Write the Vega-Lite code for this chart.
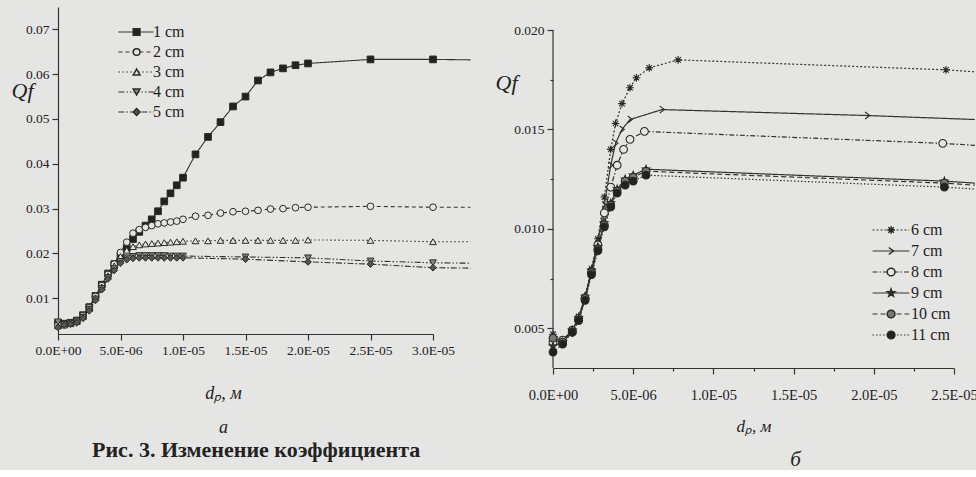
{
  "$schema": "https://vega.github.io/schema/vega-lite/v6.json",
  "background": "#e5e5e3",
  "padding": {"left": 11, "top": 7, "right": 0, "bottom": 0},
  "spacing": 22,
  "resolve": {
    "scale": {"strokeDash": "independent", "shape": "independent", "fill": "independent"},
    "legend": {"strokeDash": "independent", "shape": "independent", "fill": "independent"}
  },
  "config": {
    "view": {"stroke": null},
    "font": "Liberation Serif",
    "axis": {
      "grid": false,
      "domainColor": "#333",
      "tickColor": "#333",
      "domainWidth": 1.2,
      "tickWidth": 1.2,
      "labelColor": "#222",
      "titleColor": "#222",
      "labelFont": "Liberation Serif",
      "titleFont": "Liberation Serif",
      "labelFontSize": 13.5,
      "labelOverlap": false,
      "labelFlush": false,
      "titleFontWeight": "normal"
    },
    "legend": {
      "labelFont": "Liberation Serif",
      "labelFontSize": 16,
      "labelColor": "#222",
      "padding": 0
    },
    "title": {"font": "Liberation Serif", "color": "#222"}
  },
  "datasets": {
    "left": [
      {"s":"1 cm","x":0,"y":0.0045},{"s":"1 cm","x":0.5e-6,"y":0.0043},{"s":"1 cm","x":1e-6,"y":0.0045},{"s":"1 cm","x":1.5e-6,"y":0.0050},{"s":"1 cm","x":2e-6,"y":0.0062},{"s":"1 cm","x":2.5e-6,"y":0.0080},{"s":"1 cm","x":3e-6,"y":0.0105},{"s":"1 cm","x":3.5e-6,"y":0.0130},{"s":"1 cm","x":4e-6,"y":0.0155},{"s":"1 cm","x":4.5e-6,"y":0.0176},{"s":"1 cm","x":5e-6,"y":0.0195},{"s":"1 cm","x":5.5e-6,"y":0.0212},{"s":"1 cm","x":6e-6,"y":0.0232},{"s":"1 cm","x":6.5e-6,"y":0.0248},{"s":"1 cm","x":7e-6,"y":0.0262},{"s":"1 cm","x":7.5e-6,"y":0.0276},{"s":"1 cm","x":8e-6,"y":0.0294},{"s":"1 cm","x":8.5e-6,"y":0.0316},{"s":"1 cm","x":9e-6,"y":0.0334},{"s":"1 cm","x":9.5e-6,"y":0.0352},{"s":"1 cm","x":10e-6,"y":0.0369},{"s":"1 cm","x":11e-6,"y":0.0421},{"s":"1 cm","x":12e-6,"y":0.0460},{"s":"1 cm","x":13e-6,"y":0.0493},{"s":"1 cm","x":14e-6,"y":0.0528},{"s":"1 cm","x":15e-6,"y":0.0550},{"s":"1 cm","x":16e-6,"y":0.0586},{"s":"1 cm","x":17e-6,"y":0.0604},{"s":"1 cm","x":18e-6,"y":0.0613},{"s":"1 cm","x":19e-6,"y":0.0620},{"s":"1 cm","x":20e-6,"y":0.0624},{"s":"1 cm","x":25e-6,"y":0.0633},{"s":"1 cm","x":30e-6,"y":0.0633},{"s":"1 cm","x":33e-6,"y":0.0632},
      {"s":"2 cm","x":0,"y":0.0040},{"s":"2 cm","x":0.5e-6,"y":0.0041},{"s":"2 cm","x":1e-6,"y":0.0044},{"s":"2 cm","x":1.5e-6,"y":0.0049},{"s":"2 cm","x":2e-6,"y":0.0061},{"s":"2 cm","x":2.5e-6,"y":0.0079},{"s":"2 cm","x":3e-6,"y":0.0104},{"s":"2 cm","x":3.5e-6,"y":0.0128},{"s":"2 cm","x":4e-6,"y":0.0153},{"s":"2 cm","x":4.5e-6,"y":0.0176},{"s":"2 cm","x":5e-6,"y":0.0202},{"s":"2 cm","x":5.5e-6,"y":0.0225},{"s":"2 cm","x":6e-6,"y":0.0245},{"s":"2 cm","x":6.5e-6,"y":0.0253},{"s":"2 cm","x":7e-6,"y":0.0258},{"s":"2 cm","x":7.5e-6,"y":0.0262},{"s":"2 cm","x":8e-6,"y":0.0266},{"s":"2 cm","x":8.5e-6,"y":0.0268},{"s":"2 cm","x":9e-6,"y":0.0270},{"s":"2 cm","x":9.5e-6,"y":0.0272},{"s":"2 cm","x":10e-6,"y":0.0276},{"s":"2 cm","x":11e-6,"y":0.0283},{"s":"2 cm","x":12e-6,"y":0.0285},{"s":"2 cm","x":13e-6,"y":0.0290},{"s":"2 cm","x":14e-6,"y":0.0293},{"s":"2 cm","x":15e-6,"y":0.0294},{"s":"2 cm","x":16e-6,"y":0.0296},{"s":"2 cm","x":17e-6,"y":0.0299},{"s":"2 cm","x":18e-6,"y":0.0300},{"s":"2 cm","x":19e-6,"y":0.0302},{"s":"2 cm","x":20e-6,"y":0.0303},{"s":"2 cm","x":25e-6,"y":0.0305},{"s":"2 cm","x":30e-6,"y":0.0303},{"s":"2 cm","x":33e-6,"y":0.0303},
      {"s":"3 cm","x":0,"y":0.0038},{"s":"3 cm","x":0.5e-6,"y":0.0040},{"s":"3 cm","x":1e-6,"y":0.0043},{"s":"3 cm","x":1.5e-6,"y":0.0048},{"s":"3 cm","x":2e-6,"y":0.0059},{"s":"3 cm","x":2.5e-6,"y":0.0077},{"s":"3 cm","x":3e-6,"y":0.0101},{"s":"3 cm","x":3.5e-6,"y":0.0125},{"s":"3 cm","x":4e-6,"y":0.0150},{"s":"3 cm","x":4.5e-6,"y":0.0172},{"s":"3 cm","x":5e-6,"y":0.0193},{"s":"3 cm","x":5.5e-6,"y":0.0207},{"s":"3 cm","x":6e-6,"y":0.0215},{"s":"3 cm","x":6.5e-6,"y":0.0219},{"s":"3 cm","x":7e-6,"y":0.0221},{"s":"3 cm","x":7.5e-6,"y":0.0222},{"s":"3 cm","x":8e-6,"y":0.0223},{"s":"3 cm","x":8.5e-6,"y":0.0224},{"s":"3 cm","x":9e-6,"y":0.0225},{"s":"3 cm","x":9.5e-6,"y":0.0226},{"s":"3 cm","x":10e-6,"y":0.0227},{"s":"3 cm","x":11e-6,"y":0.0228},{"s":"3 cm","x":12e-6,"y":0.0228},{"s":"3 cm","x":13e-6,"y":0.0229},{"s":"3 cm","x":14e-6,"y":0.0229},{"s":"3 cm","x":15e-6,"y":0.0229},{"s":"3 cm","x":16e-6,"y":0.0229},{"s":"3 cm","x":17e-6,"y":0.0229},{"s":"3 cm","x":18e-6,"y":0.0229},{"s":"3 cm","x":19e-6,"y":0.0229},{"s":"3 cm","x":20e-6,"y":0.0230},{"s":"3 cm","x":25e-6,"y":0.0229},{"s":"3 cm","x":30e-6,"y":0.0226},{"s":"3 cm","x":33e-6,"y":0.0226},
      {"s":"4 cm","x":0,"y":0.0047},{"s":"4 cm","x":0.5e-6,"y":0.0042},{"s":"4 cm","x":1e-6,"y":0.0043},{"s":"4 cm","x":1.5e-6,"y":0.0047},{"s":"4 cm","x":2e-6,"y":0.0057},{"s":"4 cm","x":2.5e-6,"y":0.0075},{"s":"4 cm","x":3e-6,"y":0.0098},{"s":"4 cm","x":3.5e-6,"y":0.0122},{"s":"4 cm","x":4e-6,"y":0.0146},{"s":"4 cm","x":4.5e-6,"y":0.0166},{"s":"4 cm","x":5e-6,"y":0.0182},{"s":"4 cm","x":5.5e-6,"y":0.0190},{"s":"4 cm","x":6e-6,"y":0.0193},{"s":"4 cm","x":6.5e-6,"y":0.0195},{"s":"4 cm","x":7e-6,"y":0.0195},{"s":"4 cm","x":7.5e-6,"y":0.0195},{"s":"4 cm","x":8e-6,"y":0.0195},{"s":"4 cm","x":8.5e-6,"y":0.0195},{"s":"4 cm","x":9e-6,"y":0.0194},{"s":"4 cm","x":9.5e-6,"y":0.0194},{"s":"4 cm","x":10e-6,"y":0.0194},{"s":"4 cm","x":15e-6,"y":0.0192},{"s":"4 cm","x":20e-6,"y":0.0190},{"s":"4 cm","x":25e-6,"y":0.0183},{"s":"4 cm","x":30e-6,"y":0.0179},{"s":"4 cm","x":33e-6,"y":0.0178},
      {"s":"5 cm","x":0,"y":0.0035},{"s":"5 cm","x":0.5e-6,"y":0.0040},{"s":"5 cm","x":1e-6,"y":0.0042},{"s":"5 cm","x":1.5e-6,"y":0.0045},{"s":"5 cm","x":2e-6,"y":0.0055},{"s":"5 cm","x":2.5e-6,"y":0.0072},{"s":"5 cm","x":3e-6,"y":0.0095},{"s":"5 cm","x":3.5e-6,"y":0.0119},{"s":"5 cm","x":4e-6,"y":0.0143},{"s":"5 cm","x":4.5e-6,"y":0.0162},{"s":"5 cm","x":5e-6,"y":0.0178},{"s":"5 cm","x":5.5e-6,"y":0.0186},{"s":"5 cm","x":6e-6,"y":0.0189},{"s":"5 cm","x":6.5e-6,"y":0.0190},{"s":"5 cm","x":7e-6,"y":0.0190},{"s":"5 cm","x":7.5e-6,"y":0.0190},{"s":"5 cm","x":8e-6,"y":0.0190},{"s":"5 cm","x":8.5e-6,"y":0.0190},{"s":"5 cm","x":9e-6,"y":0.0190},{"s":"5 cm","x":9.5e-6,"y":0.0190},{"s":"5 cm","x":10e-6,"y":0.0190},{"s":"5 cm","x":15e-6,"y":0.0187},{"s":"5 cm","x":20e-6,"y":0.0181},{"s":"5 cm","x":25e-6,"y":0.0176},{"s":"5 cm","x":30e-6,"y":0.0168},{"s":"5 cm","x":33e-6,"y":0.0167}
    ],
    "right": [
      {"s":"6 cm","x":0,"y":0.0047},{"s":"6 cm","x":0.6e-6,"y":0.0044},{"s":"6 cm","x":1.2e-6,"y":0.0049},{"s":"6 cm","x":1.6e-6,"y":0.0056},{"s":"6 cm","x":2.0e-6,"y":0.0066},{"s":"6 cm","x":2.4e-6,"y":0.0080},{"s":"6 cm","x":2.8e-6,"y":0.0095},{"s":"6 cm","x":3.2e-6,"y":0.0116},{"s":"6 cm","x":3.6e-6,"y":0.0140},{"s":"6 cm","x":3.9e-6,"y":0.0153},{"s":"6 cm","x":4.3e-6,"y":0.0163},{"s":"6 cm","x":4.8e-6,"y":0.0171},{"s":"6 cm","x":5.2e-6,"y":0.0176},{"s":"6 cm","x":6.0e-6,"y":0.0181},{"s":"6 cm","x":7.8e-6,"y":0.0185},{"s":"6 cm","x":24.5e-6,"y":0.0180},{"s":"6 cm","x":26.3e-6,"y":0.0179},
      {"s":"7 cm","x":0,"y":0.0045},{"s":"7 cm","x":0.6e-6,"y":0.0044},{"s":"7 cm","x":1.2e-6,"y":0.0049},{"s":"7 cm","x":1.6e-6,"y":0.0055},{"s":"7 cm","x":2.0e-6,"y":0.0065},{"s":"7 cm","x":2.4e-6,"y":0.0079},{"s":"7 cm","x":2.8e-6,"y":0.0094},{"s":"7 cm","x":3.2e-6,"y":0.0112},{"s":"7 cm","x":3.6e-6,"y":0.0132},{"s":"7 cm","x":3.9e-6,"y":0.0143},{"s":"7 cm","x":4.3e-6,"y":0.0150},{"s":"7 cm","x":4.8e-6,"y":0.0155},{"s":"7 cm","x":6.8e-6,"y":0.0160},{"s":"7 cm","x":19.6e-6,"y":0.0157},{"s":"7 cm","x":26.3e-6,"y":0.0155},
      {"s":"8 cm","x":0,"y":0.0043},{"s":"8 cm","x":0.6e-6,"y":0.0044},{"s":"8 cm","x":1.2e-6,"y":0.0049},{"s":"8 cm","x":1.6e-6,"y":0.0055},{"s":"8 cm","x":2.0e-6,"y":0.0065},{"s":"8 cm","x":2.4e-6,"y":0.0078},{"s":"8 cm","x":2.8e-6,"y":0.0092},{"s":"8 cm","x":3.2e-6,"y":0.0108},{"s":"8 cm","x":3.6e-6,"y":0.0121},{"s":"8 cm","x":4.0e-6,"y":0.0132},{"s":"8 cm","x":4.4e-6,"y":0.0140},{"s":"8 cm","x":4.8e-6,"y":0.0145},{"s":"8 cm","x":5.7e-6,"y":0.0149},{"s":"8 cm","x":24.3e-6,"y":0.0143},{"s":"8 cm","x":26.3e-6,"y":0.0142},
      {"s":"9 cm","x":0,"y":0.0041},{"s":"9 cm","x":0.6e-6,"y":0.0043},{"s":"9 cm","x":1.2e-6,"y":0.0049},{"s":"9 cm","x":1.6e-6,"y":0.0055},{"s":"9 cm","x":2.0e-6,"y":0.0066},{"s":"9 cm","x":2.4e-6,"y":0.0079},{"s":"9 cm","x":2.8e-6,"y":0.0091},{"s":"9 cm","x":3.2e-6,"y":0.0103},{"s":"9 cm","x":3.6e-6,"y":0.0113},{"s":"9 cm","x":4.0e-6,"y":0.0120},{"s":"9 cm","x":4.5e-6,"y":0.0125},{"s":"9 cm","x":5.0e-6,"y":0.0127},{"s":"9 cm","x":5.8e-6,"y":0.0130},{"s":"9 cm","x":24.4e-6,"y":0.0124},{"s":"9 cm","x":26.3e-6,"y":0.0123},
      {"s":"10 cm","x":0,"y":0.0045},{"s":"10 cm","x":0.6e-6,"y":0.0043},{"s":"10 cm","x":1.2e-6,"y":0.0048},{"s":"10 cm","x":1.6e-6,"y":0.0054},{"s":"10 cm","x":2.0e-6,"y":0.0065},{"s":"10 cm","x":2.4e-6,"y":0.0078},{"s":"10 cm","x":2.8e-6,"y":0.0090},{"s":"10 cm","x":3.2e-6,"y":0.0102},{"s":"10 cm","x":3.6e-6,"y":0.0112},{"s":"10 cm","x":4.0e-6,"y":0.0119},{"s":"10 cm","x":4.5e-6,"y":0.0124},{"s":"10 cm","x":5.0e-6,"y":0.0126},{"s":"10 cm","x":5.8e-6,"y":0.0129},{"s":"10 cm","x":24.4e-6,"y":0.0123},{"s":"10 cm","x":26.3e-6,"y":0.0122},
      {"s":"11 cm","x":0,"y":0.0038},{"s":"11 cm","x":0.6e-6,"y":0.0042},{"s":"11 cm","x":1.2e-6,"y":0.0048},{"s":"11 cm","x":1.6e-6,"y":0.0054},{"s":"11 cm","x":2.0e-6,"y":0.0064},{"s":"11 cm","x":2.4e-6,"y":0.0077},{"s":"11 cm","x":2.8e-6,"y":0.0089},{"s":"11 cm","x":3.2e-6,"y":0.0101},{"s":"11 cm","x":3.6e-6,"y":0.0111},{"s":"11 cm","x":4.0e-6,"y":0.0118},{"s":"11 cm","x":4.5e-6,"y":0.0122},{"s":"11 cm","x":5.0e-6,"y":0.0124},{"s":"11 cm","x":5.8e-6,"y":0.0127},{"s":"11 cm","x":24.4e-6,"y":0.0121},{"s":"11 cm","x":26.3e-6,"y":0.0120}
    ]
  },
  "hconcat": [
    {
      "width": 375,
      "height": 327,
      "title": {
        "text": "Рис. 3. Изменение коэффициента",
        "orient": "bottom",
        "anchor": "start",
        "dx": 81,
        "fontSize": 22,
        "fontWeight": "bold",
        "color": "#222",
        "offset": 3
      },
      "data": {"name": "left"},
      "layer": [
        {
          "mark": {"type": "line", "color": "#333", "strokeWidth": 1.1},
          "encoding": {
            "x": {
              "field": "x", "type": "quantitative",
              "scale": {"domain": [0, 3e-5], "nice": false},
              "axis": {
                "title": ["dₚ, м", "а"],
                "titleFontStyle": "italic",
                "titleFontSize": 18,
                "titleLineHeight": 34,
                "titleX": 165,
                "titlePadding": 28,
                "labelOverlap": false,
                "values": [0, 2.5e-6, 5e-6, 7.5e-6, 1e-5, 1.25e-5, 1.5e-5, 1.75e-5, 2e-5, 2.25e-5, 2.5e-5, 2.75e-5, 3e-5],
                "labelExpr": "round(datum.value*1e7) % 50 == 0 ? replace(replace(format(datum.value, '.1e'), 'e-', 'E-0'), 'e+', 'E+0') : ''",
                "tickSize": {"condition": {"test": "round(datum.value*1e7) % 50 == 0", "value": 6}, "value": 3},
                "labelPadding": 3
              }
            },
            "y": {
              "field": "y", "type": "quantitative",
              "scale": {"domain": [0.002, 0.075], "nice": false, "zero": false},
              "axis": {
                "title": "Qf",
                "titleAngle": 0,
                "titleFontStyle": "italic",
                "titleFontSize": 22,
                "titleAlign": "center",
                "titleBaseline": "middle",
                "titleX": -36,
                "titleY": 83,
                "labelOverlap": false,
                "values": [0.01, 0.02, 0.03, 0.04, 0.05, 0.06, 0.07],
                "format": ".2f",
                "tickSize": 6,
                "labelPadding": 3
              }
            },
            "strokeDash": {
              "field": "s", "type": "nominal",
              "scale": {"domain": ["1 cm", "2 cm", "3 cm", "4 cm", "5 cm"], "range": [[1, 0], [4, 3], [1.5, 2.5], [6, 2, 1.5, 2, 1.5, 2], [6, 2, 1.5, 2]]},
              "legend": {
                "title": null, "orient": "none", "legendX": 57, "legendY": 17,
                "symbolType": "M-4.4,0L4.4,0", "symbolSize": 64, "symbolOffset": 13, "symbolStrokeWidth": 1.1, "symbolStrokeColor": "#333",
                "labelOffset": 9, "rowPadding": 4
              }
            }
          }
        },
        {
          "transform": [{"filter": "datum.x <= 3.01e-5"}],
          "mark": {"type": "point", "filled": true, "stroke": "#2a2a2a", "strokeWidth": 1, "opacity": 1, "size": 45},
          "encoding": {
            "x": {"field": "x", "type": "quantitative"},
            "y": {"field": "y", "type": "quantitative"},
            "shape": {
              "field": "s", "type": "nominal",
              "scale": {"range": ["square", "circle", "triangle-up", "triangle-down", "diamond"]},
              "legend": {
                "title": null, "orient": "none", "legendX": 57, "legendY": 17,
                "symbolSize": 45, "symbolOffset": 13.6,
                "labelOffset": 9, "rowPadding": 4, "labelOpacity": 0,
                "encode": {"symbols": {"update": {"stroke": {"value": "#2a2a2a"}, "strokeWidth": {"value": 1}}}}
              }
            },
            "fill": {
              "field": "s", "type": "nominal",
              "scale": {"range": ["#222222", "#e5e5e3", "#e5e5e3", "#8a8a8a", "#555555"]}
            }
          }
        }
      ]
    },
    {
      "width": 401,
      "height": 361,
      "title": {
        "text": "б",
        "orient": "bottom",
        "anchor": "middle",
        "fontSize": 21,
        "fontStyle": "italic",
        "fontWeight": "normal",
        "offset": 14,
        "dx": 42
      },
      "data": {"name": "right"},
      "layer": [
        {
          "transform": [{"filter": "datum.s == '6 cm' && datum.x == 0"}],
          "mark": {"type": "rule", "color": "#333", "strokeWidth": 1.2},
          "encoding": {
            "x": {"datum": 0, "type": "quantitative"},
            "y": {"datum": 0.003, "type": "quantitative"},
            "y2": {"datum": 0.02}
          }
        },
        {
          "mark": {"type": "line", "color": "#333", "strokeWidth": 1.2},
          "encoding": {
            "x": {
              "field": "x", "type": "quantitative",
              "scale": {"domain": [0, 2.5e-5], "nice": false},
              "axis": {
                "title": "dₚ, м",
                "titleFontStyle": "italic",
                "titleFontSize": 17,
                "titlePadding": 17,
                "labelOverlap": false,
                "values": [0, 2.5e-6, 5e-6, 7.5e-6, 1e-5, 1.25e-5, 1.5e-5, 1.75e-5, 2e-5, 2.25e-5, 2.5e-5],
                "labelExpr": "round(datum.value*1e7) % 50 == 0 ? replace(replace(format(datum.value, '.1e'), 'e-', 'E-0'), 'e+', 'E+0') : ''",
                "tickSize": {"condition": {"test": "round(datum.value*1e7) % 50 == 0", "value": 6}, "value": 3},
                "labelFontSize": 14.5,
                "labelPadding": 14
              }
            },
            "y": {
              "field": "y", "type": "quantitative",
              "scale": {"domain": [0.003, 0.02116], "nice": false, "zero": false},
              "axis": {
                "title": "Qf",
                "domain": false,
                "titleAngle": 0,
                "titleFontStyle": "italic",
                "titleFontSize": 22,
                "titleAlign": "center",
                "titleBaseline": "middle",
                "titleX": -47,
                "titleY": 75,
                "labelOverlap": false,
                "values": [0.005, 0.0075, 0.01, 0.0125, 0.015, 0.0175, 0.02],
                "labelExpr": "round(datum.value*10000) % 50 == 0 ? format(datum.value, '.3f') : ''",
                "tickSize": {"condition": {"test": "round(datum.value*10000) % 50 == 0", "value": 6}, "value": 3},
                "labelPadding": 3
              }
            },
            "strokeDash": {
              "field": "s", "type": "nominal",
              "sort": ["6 cm", "7 cm", "8 cm", "9 cm", "10 cm", "11 cm"],
              "scale": {"range": [[2, 2], [1, 0], [5, 2, 1.5, 2], [1, 0], [5, 3], [1.5, 2]]},
              "legend": {
                "title": null, "orient": "none", "legendX": 316, "legendY": 215,
                "symbolType": "M-4.6,0L4.6,0", "symbolSize": 64, "symbolOffset": 13.9, "symbolStrokeWidth": 1.2, "symbolStrokeColor": "#333",
                "labelOffset": 12, "rowPadding": 5
              }
            }
          }
        },
        {
          "transform": [{"filter": "datum.x <= 2.5e-5"}],
          "mark": {"type": "point", "filled": true, "stroke": "#2a2a2a", "strokeWidth": 1.1, "opacity": 1, "size": 60},
          "encoding": {
            "x": {"field": "x", "type": "quantitative"},
            "y": {"field": "y", "type": "quantitative"},
            "shape": {
              "field": "s", "type": "nominal",
              "scale": {
                "domain": ["6 cm", "7 cm", "8 cm", "9 cm", "10 cm", "11 cm"],
                "range": [
                  "M-1,0L1,0M0,-1L0,1M-0.7,-0.7L0.7,0.7M-0.7,0.7L0.7,-0.7",
                  "M-0.6,-0.9L0.6,0L-0.6,0.9",
                  "circle",
                  "M0,-1L0.24,-0.31L0.95,-0.31L0.38,0.12L0.59,0.81L0,0.4L-0.59,0.81L-0.38,0.12L-0.95,-0.31L-0.24,-0.31Z",
                  "circle",
                  "circle"
                ]
              },
              "legend": {
                "title": null, "orient": "none", "legendX": 316, "legendY": 215,
                "symbolSize": 60, "symbolOffset": 14.1,
                "labelOffset": 12, "rowPadding": 5, "labelOpacity": 0,
                "encode": {"symbols": {"update": {"stroke": {"value": "#2a2a2a"}, "strokeWidth": {"value": 1.1}}}}
              }
            },
            "fill": {
              "field": "s", "type": "nominal",
              "scale": {
                "domain": ["6 cm", "7 cm", "8 cm", "9 cm", "10 cm", "11 cm"],
                "range": ["transparent", "transparent", "#e5e5e3", "#333333", "#777777", "#222222"]
              }
            }
          }
        }
      ]
    }
  ]
}
